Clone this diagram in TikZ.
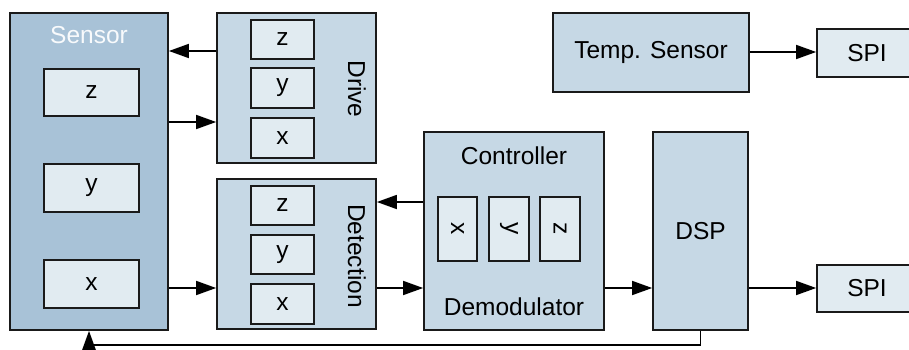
\documentclass[tikz,border=0pt]{standalone}
\usepackage{fontspec}
\setmainfont{Liberation Sans}
\usetikzlibrary{arrows.meta}
\definecolor{fillDark}{HTML}{A8C2D7}
\definecolor{fillMid}{HTML}{C6D8E5}
\definecolor{fillLight}{HTML}{E1EBF1}
\definecolor{edgeCol}{HTML}{1A1A1A}
\tikzset{
  block/.style={draw=edgeCol, line width=1.7pt, inner sep=0pt, anchor=center},
  outer/.style={block, fill=fillMid},
  cell/.style={block, fill=fillLight, font=\fontsize{24.5}{29}\selectfont},
  vcell/.style={block, fill=fillLight},
  lbl/.style={inner sep=0pt, font=\fontsize{24.5}{29}\selectfont},
  arr/.style={draw=black, line width=1.6pt, -{Triangle[length=20pt,width=14pt]}}
}
\begin{document}
\begin{tikzpicture}[x=1pt,y=-1pt]
\useasboundingbox (0,0) rectangle (909,350);
\clip (0,0) rectangle (909,350);
\fill[white] (0,0) rectangle (909,350);

% sensor block with its three axes
\node[block, fill=fillDark, minimum width=158pt, minimum height=317pt] (sensor) at (89,171.5) {};
\node[lbl, text=white!92!fillDark] at (89,35) {Sensor};
\node[cell, minimum width=95pt, minimum height=47pt] (sz) at (91.5,92.5) {z};
\node[cell, minimum width=95pt, minimum height=48pt] (sy) at (91.5,188) {y};
\node[cell, minimum width=95pt, minimum height=48pt] (sx) at (91.5,284) {x};

% drive stage
\node[outer, minimum width=159pt, minimum height=150pt] (drive) at (296.5,88) {};
\node[cell, minimum width=63pt, minimum height=39pt] (dz) at (282.5,39.5) {z};
\node[cell, minimum width=63pt, minimum height=40pt] (dy) at (282.5,88) {y};
\node[cell, minimum width=63pt, minimum height=40pt] (dx) at (282.5,138) {x};
\node[lbl, rotate=-90] at (357,89) {Drive};

% detection stage
\node[outer, minimum width=159pt, minimum height=150pt] (det) at (296.5,254) {};
\node[cell, minimum width=63pt, minimum height=39pt] (tz) at (282.5,205.5) {z};
\node[cell, minimum width=63pt, minimum height=39pt] (ty) at (282.5,254.5) {y};
\node[cell, minimum width=63pt, minimum height=40pt] (tx) at (282.5,304) {x};
\node[lbl, rotate=-90] at (357,256) {Detection};

% controller / demodulator
\node[outer, minimum width=180pt, minimum height=198pt] (ctrl) at (514,231) {};
\node[lbl] at (514,156) {Controller};
\node[lbl] at (514,307) {Demodulator};
\node[vcell, minimum width=39pt, minimum height=64pt] (cx) at (457.5,229) {};
\node[vcell, minimum width=40pt, minimum height=64pt] (cy) at (509,229) {};
\node[vcell, minimum width=40pt, minimum height=64pt] (cz) at (560,229) {};
\node[lbl, rotate=-90] at (cx) {x};
\node[lbl, rotate=-90] at (cy) {y};
\node[lbl, rotate=-90] at (cz) {z};

% signal processor
\node[outer, minimum width=95pt, minimum height=198pt, font=\fontsize{24.5}{29}\selectfont] (dsp) at (700.5,231) {DSP};

% temperature sensor and serial outputs
\node[outer, minimum width=196pt, minimum height=79pt, font=\fontsize{24.5}{29}\selectfont] (temp) at (651,52.5) {Temp. Sensor};
\node[cell, minimum width=100pt, minimum height=48pt] (spia) at (867,53) {SPI};
\node[cell, minimum width=100pt, minimum height=47pt] (spib) at (867,288.5) {SPI};

% connections
\draw[arr] (drive.west |- 0,51) -- (sensor.east |- 0,51);
\draw[arr] (sensor.east |- 0,122) -- (drive.west |- 0,122);
\draw[arr] (sensor.east |- 0,288) -- (det.west |- 0,288);
\draw[arr] (ctrl.west |- 0,202) -- (det.east |- 0,202);
\draw[arr] (det.east |- 0,288) -- (ctrl.west |- 0,288);
\draw[arr] (ctrl.east |- 0,288) -- (dsp.west |- 0,288);
\draw[arr] (temp.east |- 0,52) -- (spia.west |- 0,52);
\draw[arr] (dsp.east |- 0,288) -- (spib.west |- 0,288);
\draw[arr] (dsp.south) -- ++(0,14) -| (sensor.south);
\end{tikzpicture}
\end{document}
